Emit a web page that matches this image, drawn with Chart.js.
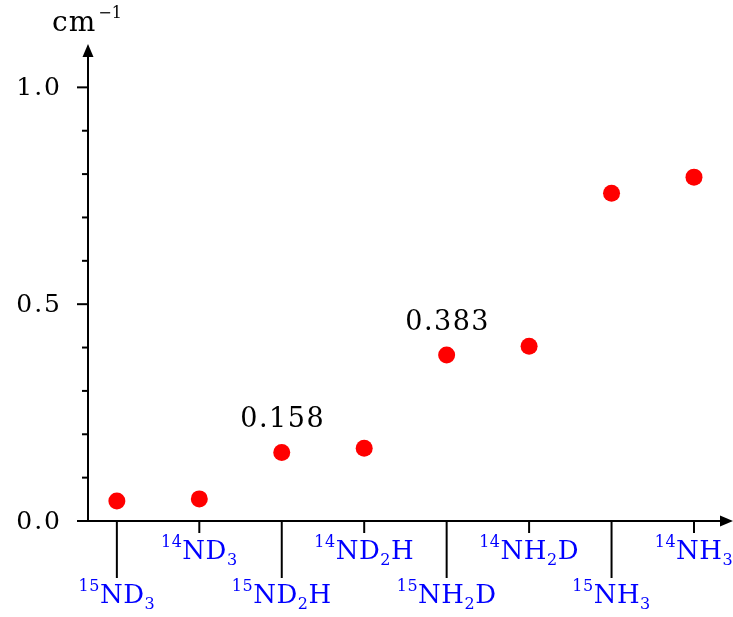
<!DOCTYPE html>
<html>
<head>
<meta charset="utf-8">
<title>Inversion splitting of ammonia isotopologues</title>
<script src="https://cdn.jsdelivr.net/npm/chart.js@4"></script>
<style>
  body { margin: 0; background: #fff; }
  #wrap { width: 733px; height: 617px; }
</style>
</head>
<body>
<div id="wrap"><canvas id="splittingChart"></canvas></div>
<script>
// Species along the x axis and their inversion splitting (cm^-1)
const species = ["15ND3", "14ND3", "15ND2H", "14ND2H", "15NH2D", "14NH2D", "15NH3", "14NH3"];
const splitting = [0.046, 0.051, 0.158, 0.168, 0.383, 0.403, 0.756, 0.793];
// Points that get their value printed above them
const labelled = [2, 4];
const majorTicks = [0, 0.5, 1.0];
const minorTicks = [0.1, 0.2, 0.3, 0.4, 0.6, 0.7, 0.8, 0.9];

const FONT = "DejaVu Serif";
const LABEL_BLUE = "#0000ff";

// "15ND2H" -> leading mass number as superscript, other digits as subscripts
function parseFormula(text) {
  const m = text.match(/^(\d+)(.*)$/);
  const parts = [{ t: m[1], kind: "sup" }];
  m[2].split(/(\d+)/).forEach(function (s, i) {
    if (s) parts.push({ t: s, kind: i % 2 ? "sub" : "main" });
  });
  return parts;
}

function drawFormula(ctx, text, cx, baseline) {
  const parts = parseFormula(text);
  const fontFor = function (kind) {
    return kind === "main" ? "26px " + FONT : "16px " + FONT;
  };
  ctx.letterSpacing = "0.5px";
  let total = 0;
  parts.forEach(function (p) {
    ctx.font = fontFor(p.kind);
    p.w = ctx.measureText(p.t).width;
    total += p.w;
  });
  let x = cx - total / 2;
  ctx.textAlign = "left";
  ctx.textBaseline = "alphabetic";
  parts.forEach(function (p) {
    ctx.font = fontFor(p.kind);
    let dy = 0;
    if (p.kind === "sup") dy = -12;
    if (p.kind === "sub") dy = 6;
    ctx.fillText(p.t, x, baseline + dy);
    x += p.w;
  });
  ctx.letterSpacing = "0px";
}

// Axes with arrows, tick marks and all text
const axesPlugin = {
  id: "axesPlugin",
  beforeDatasetsDraw(chart) {
    const ctx = chart.ctx;
    const xs = chart.scales.x;
    const ys = chart.scales.y;
    const area = chart.chartArea;
    const x0 = area.left;
    const y0 = ys.getPixelForValue(0);
    const xEnd = Math.min(area.right + 9, chart.width);

    ctx.save();
    ctx.strokeStyle = "#000";
    ctx.fillStyle = "#000";
    ctx.lineWidth = 2;

    // y axis
    ctx.beginPath();
    ctx.moveTo(x0, y0);
    ctx.lineTo(x0, area.top + 10);
    ctx.stroke();
    ctx.beginPath();
    ctx.moveTo(x0, area.top);
    ctx.lineTo(x0 - 5.5, area.top + 13);
    ctx.lineTo(x0 + 5.5, area.top + 13);
    ctx.closePath();
    ctx.fill();

    // x axis
    ctx.beginPath();
    ctx.moveTo(x0 - 11, y0);
    ctx.lineTo(xEnd - 10, y0);
    ctx.stroke();
    ctx.beginPath();
    ctx.moveTo(xEnd, y0);
    ctx.lineTo(xEnd - 13, y0 - 5.5);
    ctx.lineTo(xEnd - 13, y0 + 5.5);
    ctx.closePath();
    ctx.fill();

    // y ticks
    majorTicks.forEach(function (v) {
      const py = ys.getPixelForValue(v);
      ctx.beginPath();
      ctx.moveTo(x0 - 11, py);
      ctx.lineTo(x0, py);
      ctx.stroke();
    });
    minorTicks.forEach(function (v) {
      const py = ys.getPixelForValue(v);
      ctx.beginPath();
      ctx.moveTo(x0 - 6, py);
      ctx.lineTo(x0, py);
      ctx.stroke();
    });

    ctx.font = "25px " + FONT;
    ctx.letterSpacing = "2px";
    ctx.textAlign = "right";
    ctx.textBaseline = "middle";
    majorTicks.forEach(function (v) {
      ctx.fillText(v.toFixed(1), x0 - 26, ys.getPixelForValue(v) + 1);
    });

    // unit above the y axis
    ctx.textAlign = "left";
    ctx.textBaseline = "alphabetic";
    ctx.font = "28px " + FONT;
    ctx.letterSpacing = "1px";
    const cmW = ctx.measureText("cm").width;
    ctx.fillText("cm", x0 - 36, 31);
    ctx.font = "16px " + FONT;
    ctx.letterSpacing = "0px";
    ctx.fillText("\u22121", x0 - 36 + cmW + 2, 18);

    // x ticks, alternating short and long, with species labels
    species.forEach(function (name, i) {
      const px = xs.getPixelForValue(i + 1);
      const long = i % 2 === 0;
      ctx.strokeStyle = "#000";
      ctx.beginPath();
      ctx.moveTo(px, y0);
      ctx.lineTo(px, y0 + (long ? 57 : 12));
      ctx.stroke();
      ctx.fillStyle = LABEL_BLUE;
      drawFormula(ctx, name, px, long ? 603 : 559);
    });

    // value annotations
    ctx.fillStyle = "#000";
    ctx.font = "27px " + FONT;
    ctx.letterSpacing = "1.5px";
    ctx.textAlign = "center";
    ctx.textBaseline = "alphabetic";
    labelled.forEach(function (i) {
      const px = xs.getPixelForValue(i + 1);
      const py = ys.getPixelForValue(splitting[i]);
      ctx.fillText(splitting[i].toFixed(3), px + 1, py - 25);
    });
    ctx.restore();
  }
};

new Chart(document.getElementById("splittingChart"), {
  type: "scatter",
  data: {
    datasets: [
      {
        data: splitting.map(function (v, i) {
          return { x: i + 1, y: v };
        }),
        backgroundColor: "#ff0000",
        borderWidth: 0,
        pointRadius: 8.5,
        pointHoverRadius: 8.5,
      },
    ],
  },
  options: {
    responsive: true,
    maintainAspectRatio: false,
    animation: false,
    layout: {
      padding: { left: 88, right: 0, top: 44, bottom: 96 },
    },
    plugins: {
      legend: { display: false },
      tooltip: { enabled: false },
    },
    scales: {
      x: { type: "linear", display: false, min: 0.65, max: 8.37 },
      y: { display: false, min: 0, max: 1.1 },
    },
  },
  plugins: [axesPlugin],
});
</script>
</body>
</html>
